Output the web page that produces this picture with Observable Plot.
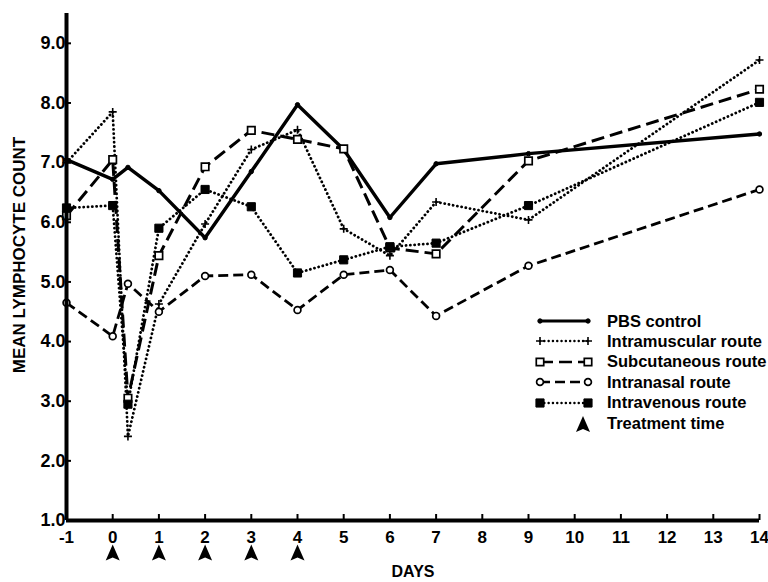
<!DOCTYPE html>
<html><head><meta charset="utf-8">
<script src="https://cdn.jsdelivr.net/npm/d3@7"></script>
<script src="https://cdn.jsdelivr.net/npm/@observablehq/plot@0.6"></script>
<style>
html,body{margin:0;padding:0;background:#fff;}
#wrap{position:relative;width:768px;height:582px;font-family:"Liberation Sans",Arial,sans-serif;}
.row{position:absolute;left:534px;height:20px;display:flex;align-items:center;font-weight:bold;font-size:16.5px;white-space:nowrap;color:#000;}
.row svg{margin-right:13px;flex:none;}
</style></head><body><div id="wrap"></div>
<script>
// ---- data ----
const days = [-1, 0, 0.33, 1, 2, 3, 4, 5, 6, 7, 9, 14];
const pbsControl    = [7.05, 6.72, 6.92, 6.53, 5.74, 6.85, 7.97, 7.22, 6.08, 6.98, 7.15, 7.48];
const intramuscular = [7.00, 7.85, 2.41, 4.63, 5.97, 7.22, 7.55, 5.89, 5.44, 6.34, 6.04, 8.72];
const subcutaneous  = [6.11, 7.05, 3.05, 5.44, 6.93, 7.54, 7.39, 7.23, 5.57, 5.47, 7.03, 8.23];
const intranasal    = [4.65, 4.09, 4.97, 4.50, 5.10, 5.12, 4.53, 5.12, 5.20, 4.43, 5.27, 6.55];
const intravenous   = [6.24, 6.28, 2.95, 5.90, 6.55, 6.26, 5.15, 5.37, 5.59, 5.65, 6.28, 8.01];
const treatmentDays = [0, 1, 2, 3, 4];
const xTickValues = [-1, 0, 1, 2, 3, 4, 5, 6, 7, 8, 9, 10, 11, 12, 13, 14];
const yTickValues = [1, 2, 3, 4, 5, 6, 7, 8, 9];
const seriesNames = ["PBS control", "Intramuscular route", "Subcutaneous route", "Intranasal route", "Intravenous route"];
const treatmentLabel = "Treatment time";
const yLabel = "MEAN LYMPHOCYTE COUNT";
const xLabel = "DAYS";

// ---- styles ----
const seriesValues = [pbsControl, intramuscular, subcutaneous, intranasal, intravenous];
const styles = [
  {dash: null, width: 3.4, cap: "butt", symbol: "circle", r: 2.2, fill: "black", sw: 1},
  {dash: "0.1 4.2", width: 2.8, cap: "round", symbol: "plus", r: 2.7, fill: "none", sw: 1.6},
  {dash: "13 6", width: 3, cap: "butt", symbol: "square", r: 4.2, fill: "white", sw: 1.7},
  {dash: "10 5", width: 2.8, cap: "butt", symbol: "circle", r: 3.4, fill: "white", sw: 1.7},
  {dash: "0.1 4.2", width: 2.8, cap: "round", symbol: "square", r: 4.6, fill: "black", sw: 1}
];
const arrowSymbol = {draw(ctx) { ctx.moveTo(0, -8); ctx.lineTo(7, 8); ctx.lineTo(0, 5); ctx.lineTo(-7, 8); ctx.closePath(); }};

const marks = [];
seriesNames.forEach((name, k) => {
  const rows = days.map((d, i) => ({day: d, value: seriesValues[k][i], series: name}));
  const s = styles[k];
  marks.push(Plot.line(rows, {x: "day", y: "value", stroke: "black", strokeWidth: s.width,
    strokeDasharray: s.dash, strokeLinecap: s.cap, strokeLinejoin: "round"}));
});
seriesNames.forEach((name, k) => {
  const rows = days.map((d, i) => ({day: d, value: seriesValues[k][i], series: name}));
  const s = styles[k];
  marks.push(Plot.dot(rows, {x: "day", y: "value", symbol: s.symbol, r: s.r, fill: s.fill, stroke: "black", strokeWidth: s.sw}));
});

const chart = Plot.plot({
  width: 768, height: 582,
  marginTop: 13, marginBottom: 62, marginLeft: 66, marginRight: 9,
  style: {fontFamily: "Liberation Sans, Arial, sans-serif", fontSize: "17px", fontWeight: "bold", background: "white", color: "black"},
  x: {domain: [-1, 14]},
  y: {domain: [1, 9.5]},
  marks: [
    ...marks,
    Plot.ruleX([-1], {strokeWidth: 4}),
    Plot.ruleY([1], {strokeWidth: 3.8}),
    Plot.axisX({ticks: xTickValues, tickSize: 0, tickPadding: 10, tickFormat: d => String(d), label: null, fontSize: 17, fontWeight: "bold"}),
    Plot.axisX({ticks: xTickValues.filter(d => d >= 0), tickSize: 6, text: null, dy: -6, strokeWidth: 2, label: null}),
    Plot.axisY({ticks: yTickValues, tickSize: 0, tickPadding: 1, tickFormat: d3.format(".1f"), label: null, fontSize: 18, fontWeight: "bold"}),
    Plot.axisY({ticks: yTickValues.filter(d => d > 1), tickSize: 5, text: null, dx: 5, strokeWidth: 2, label: null}),
    Plot.text([yLabel], {frameAnchor: "left", textAnchor: "middle", rotate: -90, dx: -47, dy: -12, fontSize: 17, fontWeight: "bold"}),
    Plot.text([xLabel], {frameAnchor: "bottom", textAnchor: "middle", dy: 56, fontSize: 16, fontWeight: "bold"}),
    Plot.dot(treatmentDays, {x: d => d, frameAnchor: "bottom", dy: 32, symbol: arrowSymbol, fill: "black", stroke: "none"})
  ]
});
const wrap = document.getElementById("wrap");
wrap.appendChild(chart);

// ---- legend (HTML overlay) ----
const legendTop = 311, rowStep = 20.4;
const legendItems = seriesNames.map((n, k) => ({label: n, style: styles[k]})).concat([{label: treatmentLabel, arrow: true}]);
legendItems.forEach((item, k) => {
  const row = document.createElement("div");
  row.className = "row";
  row.style.top = (legendTop + k * rowStep) + "px";
  const svg = d3.create("svg").attr("width", 60).attr("height", 20);
  if (item.arrow) {
    svg.append("path").attr("d", d3.symbol(arrowSymbol)()).attr("transform", "translate(49,11)").attr("fill", "black");
  } else {
    const s = item.style;
    svg.append("line").attr("x1", 6).attr("x2", 54).attr("y1", 10).attr("y2", 10)
      .attr("stroke", "black").attr("stroke-width", s.width - 0.4)
      .attr("stroke-dasharray", s.dash).attr("stroke-linecap", s.cap);
    const sym = d3.symbol(s.symbol === "plus" ? d3.symbolPlus : s.symbol === "square" ? d3.symbolSquare : d3.symbolCircle, Math.PI * s.r * s.r);
    [6, 54].forEach(x => svg.append("path").attr("d", sym()).attr("transform", `translate(${x},10)`)
      .attr("fill", s.fill).attr("stroke", "black").attr("stroke-width", s.sw));
  }
  row.appendChild(svg.node());
  const span = document.createElement("span");
  span.textContent = item.label;
  row.appendChild(span);
  wrap.appendChild(row);
});
</script></body></html>
